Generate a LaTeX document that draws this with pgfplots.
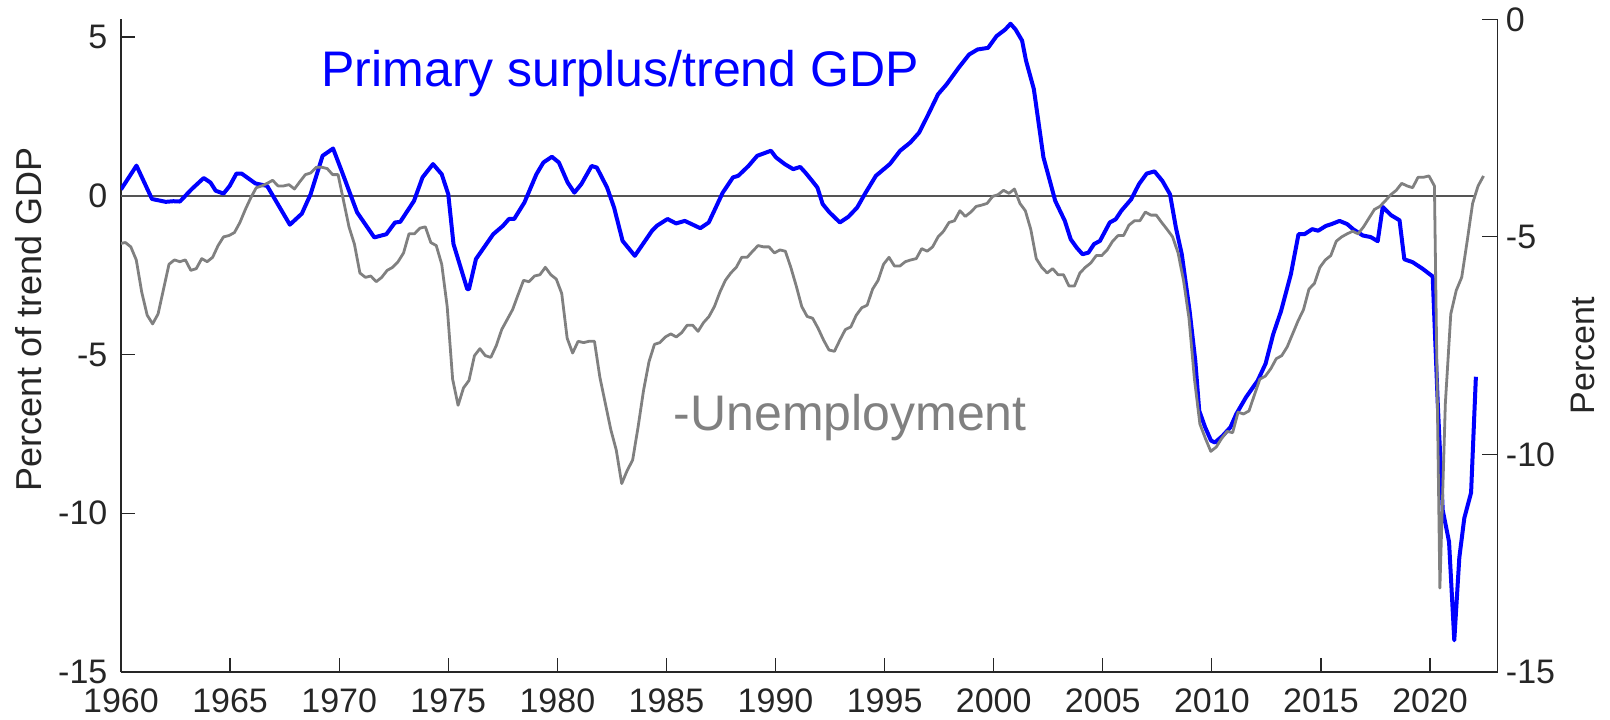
\documentclass[border=0pt]{standalone}
\usepackage{fontspec}
\setmainfont{Liberation Sans}
\usepackage{pgfplots}
\pgfplotsset{compat=1.18}
\definecolor{myblue}{RGB}{0,0,255}
\definecolor{mygray}{RGB}{128,128,128}
\definecolor{zerogray}{RGB}{85,85,85}
\definecolor{axcol}{RGB}{38,38,38}
\begin{document}
\begin{tikzpicture}
\path[use as bounding box] (-60.5pt,-23.5pt) rectangle (744.5pt,336pt);
\begin{axis}[
  at={(0,0)}, anchor=south west,
  scale only axis, width=688.35pt, height=326.35pt,
  xmin=1960, xmax=2023.1, ymin=-15, ymax=5.56,
  axis x line*=bottom, axis y line*=left,
  axis line style={axcol, line width=0.6pt},
  tick align=inside,
  major tick length=7pt,
  tick style={axcol, line width=0.6pt},
  xtick={1960,1965,...,2020},
  ytick={-15,-10,-5,0,5},
  /pgf/number format/1000 sep={},
  /pgf/number format/assume math mode=true,
  ticklabel style={font=\fontsize{17}{19}\selectfont, text=axcol},
  xticklabel style={yshift=-4.8pt},
  yticklabel style={xshift=-3.3pt},
  ylabel={Percent of trend GDP},
  every axis y label/.style={at={(axis description cs:-0.0668,0.54)}, rotate=90, anchor=center, font=\fontsize{18}{20}\selectfont, text=axcol},
]
\addplot[color=zerogray, line width=1pt] coordinates {(1960,0) (2022.1,0)};
\addplot[color=myblue, line width=2pt, line join=round] coordinates {
(1960.0,0.20) (1960.71,0.95) (1961.42,-0.10) (1962.05,-0.19) (1962.4,-0.17) (1962.7,-0.18)
(1963.24,0.21) (1963.79,0.56) (1964.1,0.42) (1964.34,0.16) (1964.7,0.07) (1964.98,0.31)
(1965.29,0.70) (1965.53,0.70) (1966.16,0.39) (1966.7,0.31) (1967.1,-0.16) (1967.74,-0.91)
(1968.29,-0.56) (1968.69,0.05) (1969.24,1.26) (1969.72,1.49) (1970.11,0.79) (1970.82,-0.52)
(1971.61,-1.31) (1972.16,-1.21) (1972.56,-0.84) (1972.8,-0.82) (1973.43,-0.16) (1973.82,0.58)
(1974.3,1.0) (1974.7,0.68) (1975.0,0.05) (1975.24,-1.52) (1975.87,-2.94) (1975.95,-2.94)
(1976.27,-1.99) (1977.06,-1.21) (1977.5,-0.95) (1977.78,-0.73) (1978.02,-0.73) (1978.49,-0.21)
(1979.04,0.68) (1979.36,1.05) (1979.75,1.23) (1980.07,1.05) (1980.47,0.42) (1980.78,0.10)
(1981.1,0.37) (1981.57,0.94) (1981.81,0.89) (1982.28,0.26) (1982.6,-0.37) (1982.99,-1.42)
(1983.55,-1.89) (1984.02,-1.42) (1984.34,-1.10) (1984.57,-0.94) (1985.05,-0.73) (1985.44,-0.87)
(1985.84,-0.79) (1986.15,-0.89) (1986.55,-1.02) (1986.94,-0.84) (1987.26,-0.37) (1987.58,0.10)
(1988.05,0.58) (1988.29,0.63) (1988.76,0.94) (1989.16,1.26) (1989.79,1.42) (1990.02,1.21)
(1990.42,1.0) (1990.81,0.84) (1991.13,0.91) (1991.37,0.73) (1991.68,0.47) (1991.92,0.26)
(1992.16,-0.26) (1992.47,-0.52) (1992.95,-0.84) (1993.34,-0.66) (1993.74,-0.37) (1994.13,0.10)
(1994.6,0.63) (1995.24,1.0) (1995.71,1.42) (1996.18,1.68) (1996.58,1.99) (1996.97,2.52)
(1997.45,3.20) (1997.84,3.51) (1998.4,4.04) (1998.87,4.45) (1999.26,4.61) (1999.74,4.66)
(2000.13,5.03) (2000.53,5.24) (2000.77,5.42) (2001.0,5.24) (2001.3,4.89) (2001.48,4.26)
(2001.84,3.36) (2002.28,1.21) (2002.55,0.53) (2002.82,-0.16) (2003.26,-0.79) (2003.53,-1.37)
(2003.8,-1.63) (2004.07,-1.84) (2004.34,-1.79) (2004.6,-1.52) (2004.87,-1.42) (2005.32,-0.84)
(2005.59,-0.74) (2005.85,-0.47) (2006.3,-0.11) (2006.66,0.37) (2007.01,0.70) (2007.37,0.77)
(2007.73,0.47) (2008.08,0.05) (2008.35,-1.0) (2008.62,-1.84) (2008.98,-3.63) (2009.24,-5.2)
(2009.42,-6.77) (2009.69,-7.29) (2009.96,-7.71) (2010.14,-7.77) (2010.49,-7.56) (2010.85,-7.29)
(2011.12,-6.87) (2011.56,-6.35) (2012.1,-5.82) (2012.46,-5.29) (2012.81,-4.36) (2013.17,-3.63)
(2013.62,-2.47) (2013.97,-1.21) (2014.24,-1.21) (2014.6,-1.05) (2014.87,-1.10) (2015.22,-0.95)
(2015.49,-0.89) (2015.85,-0.79) (2016.2,-0.89) (2016.47,-1.05) (2016.92,-1.25) (2017.28,-1.30)
(2017.6,-1.43) (2017.83,-0.35) (2018.21,-0.61) (2018.6,-0.77) (2018.82,-2.0) (2019.2,-2.09)
(2019.66,-2.3) (2020.12,-2.54) (2020.35,-6.5) (2020.58,-9.9) (2020.87,-10.9) (2021.11,-14.0)
(2021.34,-11.4) (2021.57,-10.15) (2021.88,-9.35) (2022.1,-5.7)
};
\node[anchor=base west, inner sep=0, font=\fontsize{25}{30}\selectfont, text=myblue] at (axis cs:1969.17,3.45) {Primary surplus/trend GDP};
\node[anchor=base west, inner sep=0, font=\fontsize{25}{30}\selectfont, text=mygray] at (axis cs:1985.32,-7.39) {-Unemployment};
\end{axis}
\begin{axis}[
  at={(0,0)}, anchor=south west,
  scale only axis, width=688.35pt, height=326.35pt,
  xmin=1960, xmax=2023.1, ymin=-15, ymax=0,
  axis x line=none, axis y line*=right,
  axis line style={axcol, line width=0.6pt},
  tick align=inside,
  major tick length=8pt,
  tick style={axcol, line width=0.6pt},
  ytick={-15,-10,-5,0},
  /pgf/number format/assume math mode=true,
  ticklabel style={font=\fontsize{17}{19}\selectfont, text=axcol},
  yticklabel style={xshift=0.6pt},
  ylabel={Percent},
  every axis y label/.style={at={(axis description cs:1.062,0.485)}, rotate=90, anchor=center, font=\fontsize{17}{19}\selectfont, text=axcol},
]
\addplot[color=mygray, line width=1.4pt, line join=round] coordinates {
(1960.00,-5.15) (1960.20,-5.13) (1960.45,-5.23) (1960.70,-5.53) (1960.95,-6.27)
(1961.20,-6.80) (1961.45,-7.00) (1961.70,-6.77) (1961.95,-6.20)
(1962.20,-5.63) (1962.45,-5.53) (1962.70,-5.57) (1962.95,-5.53)
(1963.20,-5.77) (1963.45,-5.73) (1963.70,-5.50) (1963.95,-5.57)
(1964.20,-5.47) (1964.45,-5.20) (1964.70,-5.00) (1964.95,-4.97)
(1965.20,-4.90) (1965.45,-4.67) (1965.70,-4.37) (1965.95,-4.10)
(1966.20,-3.87) (1966.45,-3.83) (1966.70,-3.77) (1966.95,-3.70)
(1967.20,-3.83) (1967.45,-3.83) (1967.70,-3.80) (1967.95,-3.90)
(1968.20,-3.73) (1968.45,-3.57) (1968.70,-3.53) (1968.95,-3.40)
(1969.20,-3.40) (1969.45,-3.43) (1969.70,-3.57) (1969.95,-3.57)
(1970.20,-4.17) (1970.45,-4.77) (1970.70,-5.17) (1970.95,-5.83)
(1971.20,-5.93) (1971.45,-5.90) (1971.70,-6.03) (1971.95,-5.93)
(1972.20,-5.77) (1972.45,-5.70) (1972.70,-5.57) (1972.95,-5.37)
(1973.20,-4.93) (1973.45,-4.93) (1973.70,-4.80) (1973.95,-4.77)
(1974.20,-5.13) (1974.45,-5.20) (1974.70,-5.63) (1974.95,-6.60)
(1975.20,-8.27) (1975.45,-8.87) (1975.70,-8.47) (1975.95,-8.30)
(1976.20,-7.73) (1976.45,-7.57) (1976.70,-7.73) (1976.95,-7.77)
(1977.20,-7.50) (1977.45,-7.13) (1977.70,-6.90) (1977.95,-6.67)
(1978.20,-6.33) (1978.45,-6.00) (1978.70,-6.03) (1978.95,-5.90)
(1979.20,-5.87) (1979.45,-5.70) (1979.70,-5.87) (1979.95,-5.97)
(1980.20,-6.30) (1980.45,-7.33) (1980.70,-7.67) (1980.95,-7.40)
(1981.20,-7.43) (1981.45,-7.40) (1981.70,-7.40) (1981.95,-8.23)
(1982.20,-8.83) (1982.45,-9.43) (1982.70,-9.90) (1982.95,-10.67)
(1983.20,-10.37) (1983.45,-10.13) (1983.70,-9.37) (1983.95,-8.53)
(1984.20,-7.87) (1984.45,-7.47) (1984.70,-7.43) (1984.95,-7.30)
(1985.20,-7.23) (1985.45,-7.30) (1985.70,-7.20) (1985.95,-7.03)
(1986.20,-7.03) (1986.45,-7.17) (1986.70,-6.97) (1986.95,-6.83)
(1987.20,-6.60) (1987.45,-6.27) (1987.70,-6.00) (1987.95,-5.83)
(1988.20,-5.70) (1988.45,-5.47) (1988.70,-5.47) (1988.95,-5.33)
(1989.20,-5.20) (1989.45,-5.23) (1989.70,-5.23) (1989.95,-5.37)
(1990.20,-5.30) (1990.45,-5.33) (1990.70,-5.70) (1990.95,-6.13)
(1991.20,-6.60) (1991.45,-6.83) (1991.70,-6.87) (1991.95,-7.10)
(1992.20,-7.37) (1992.45,-7.60) (1992.70,-7.63) (1992.95,-7.37)
(1993.20,-7.13) (1993.45,-7.07) (1993.70,-6.80) (1993.95,-6.63)
(1994.20,-6.57) (1994.45,-6.20) (1994.70,-6.00) (1994.95,-5.63)
(1995.20,-5.47) (1995.45,-5.67) (1995.70,-5.67) (1995.95,-5.57)
(1996.20,-5.53) (1996.45,-5.50) (1996.70,-5.27) (1996.95,-5.33)
(1997.20,-5.23) (1997.45,-5.00) (1997.70,-4.87) (1997.95,-4.67)
(1998.20,-4.63) (1998.45,-4.40) (1998.70,-4.53) (1998.95,-4.43)
(1999.20,-4.30) (1999.45,-4.27) (1999.70,-4.23) (1999.95,-4.07)
(2000.20,-4.03) (2000.45,-3.93) (2000.70,-4.00) (2000.95,-3.90)
(2001.20,-4.23) (2001.45,-4.40) (2001.70,-4.83) (2001.95,-5.50)
(2002.20,-5.70) (2002.45,-5.83) (2002.70,-5.73) (2002.95,-5.87)
(2003.20,-5.87) (2003.45,-6.13) (2003.70,-6.13) (2003.95,-5.83)
(2004.20,-5.70) (2004.45,-5.60) (2004.70,-5.43) (2004.95,-5.43)
(2005.20,-5.30) (2005.45,-5.10) (2005.70,-4.97) (2005.95,-4.97)
(2006.20,-4.73) (2006.45,-4.63) (2006.70,-4.63) (2006.95,-4.43)
(2007.20,-4.50) (2007.45,-4.50) (2007.70,-4.67) (2007.95,-4.83)
(2008.20,-5.00) (2008.45,-5.37) (2008.70,-6.00) (2008.95,-6.87)
(2009.20,-8.27) (2009.45,-9.30) (2009.70,-9.63) (2009.95,-9.93)
(2010.20,-9.83) (2010.45,-9.63) (2010.70,-9.47) (2010.95,-9.50)
(2011.20,-9.03) (2011.45,-9.07) (2011.70,-9.00) (2011.95,-8.63)
(2012.20,-8.27) (2012.45,-8.20) (2012.70,-8.03) (2012.95,-7.80)
(2013.20,-7.73) (2013.45,-7.53) (2013.70,-7.23) (2013.95,-6.93)
(2014.20,-6.67) (2014.45,-6.20) (2014.70,-6.07) (2014.95,-5.70)
(2015.20,-5.53) (2015.45,-5.43) (2015.70,-5.10) (2015.95,-5.00)
(2016.20,-4.93) (2016.45,-4.87) (2016.70,-4.93) (2016.95,-4.77)
(2017.20,-4.57) (2017.45,-4.37) (2017.70,-4.30) (2017.95,-4.17)
(2018.20,-4.03) (2018.45,-3.93) (2018.70,-3.77) (2018.95,-3.83)
(2019.20,-3.87) (2019.45,-3.63) (2019.70,-3.63) (2019.95,-3.60)
(2020.20,-3.83) (2020.45,-13.07) (2020.70,-8.83) (2020.95,-6.77)
(2021.20,-6.23) (2021.45,-5.93) (2021.70,-5.10) (2021.95,-4.23)
(2022.20,-3.83) (2022.45,-3.60)
};
\end{axis}
\end{tikzpicture}
\end{document}
